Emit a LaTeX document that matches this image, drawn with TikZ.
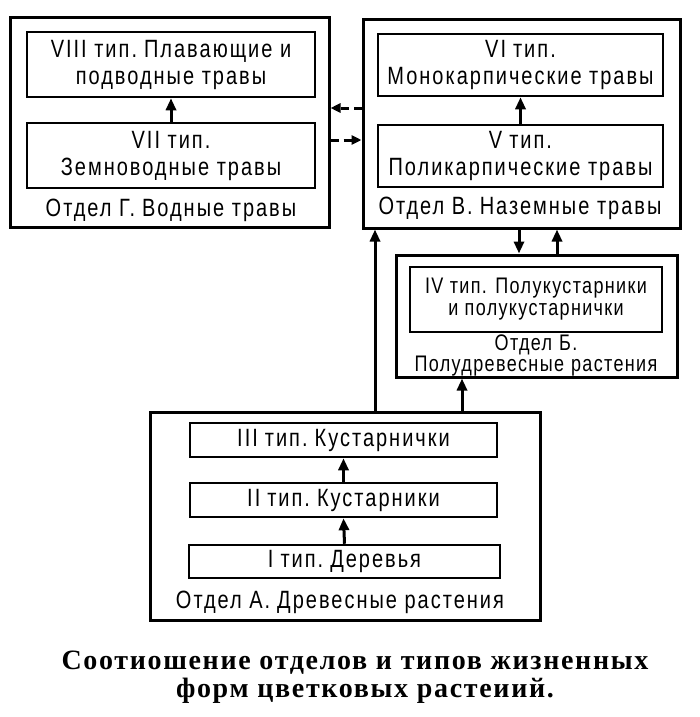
\documentclass[tikz,border=0pt]{standalone}
\usepackage{fontspec}
\setmainfont{Liberation Sans}[FakeStretch=0.8,LetterSpace=8]
\newfontfamily\tightfont{Liberation Sans}[FakeStretch=0.8,LetterSpace=6]
\newfontfamily\capfont{Liberation Serif}[LetterSpace=6]
\usetikzlibrary{arrows.meta}
\newcommand{\gap}{\hspace{7pt}}
\begin{document}
\begin{tikzpicture}[x=1pt,y=-1pt,
  outerbox/.style={draw,line width=3pt,inner sep=0pt},
  innerbox/.style={draw,line width=2.5pt,inner sep=0pt,align=center,font=\fontsize{25}{27}\selectfont},
  lbl/.style={inner sep=0pt,align=center,font=\fontsize{25}{27}\selectfont},
  arr/.style={line width=3pt,-{Triangle[length=12pt,width=10pt]}},
  darr/.style={line width=3pt,dash pattern=on 8pt off 5pt,-{Triangle[length=10pt,width=9pt]}},
  captxt/.style={inner sep=0pt,font=\capfont\bfseries\fontsize{28}{30}\selectfont}]
\useasboundingbox (0,0) rectangle (699,717);
% Otdel G
\node[outerbox,minimum width=319pt,minimum height=209pt] (G) at (169.5,122.5) {};
\node[innerbox,minimum width=288pt,minimum height=65pt] (t8) at (171,64.5) {VIII тип.\gap Плавающие и\\подводные травы};
\node[innerbox,minimum width=288pt,minimum height=65pt] (t7) at (171,155.5) {VII тип.\\Земноводные травы};
\node[lbl] (lG) at (171,210) {Отдел Г.\gap Водные травы};
% Otdel V
\node[outerbox,minimum width=317pt,minimum height=208pt] (B) at (521.5,124) {};
\node[innerbox,minimum width=285pt,minimum height=62pt] (t6) at (520.5,65) {VI\gap тип.\\Монокарпические травы};
\node[innerbox,minimum width=285pt,minimum height=62pt] (t5) at (520.5,156) {V\gap тип.\\Поликарпические травы};
\node[lbl] (lB) at (520,208) {Отдел В.\gap Наземные травы};
% Otdel B
\node[outerbox,minimum width=281pt,minimum height=122pt] (Bb) at (536.5,316) {};
\node[innerbox,minimum width=252pt,minimum height=65pt,font=\tightfont\fontsize{22.5}{22}\selectfont] (t4) at (536,299.5) {IV тип. Полукустарники\\и полукустарнички};
\node[lbl,font=\tightfont\fontsize{22.5}{21}\selectfont] (lBb) at (536,355) {Отдел\gap Б.\\Полудревесные\gap растения};
% Otdel A
\node[outerbox,minimum width=390pt,minimum height=208pt] (A) at (345,516) {};
\node[innerbox,minimum width=307pt,minimum height=34pt] (t3) at (343.5,440) {III\gap тип.\gap Кустарнички};
\node[innerbox,minimum width=307pt,minimum height=34pt] (t2) at (343.5,500) {II\gap тип.\gap Кустарники};
\node[innerbox,minimum width=311pt,minimum height=33pt] (t1) at (344.5,561.5) {I\gap тип.\gap Деревья};
\node[lbl] (lA) at (340,602) {Отдел А.\gap Древесные растения};
% caption
\node[captxt] (c1) at (355,663) {Соотиошение отделов и типов жизненных};
\node[captxt] (c2) at (365,691) {форм цветковых растеиий.};
% helper coordinates
\coordinate (xAB) at (375,0);
\coordinate (xABb) at (462,0);
\coordinate (xdn) at (519,0);
\coordinate (xup) at (557,0);
\coordinate (yd1) at (0,108);
\coordinate (yd2) at (0,140);
% arrows
\draw[arr] (t7.north) -- (t8.south);
\draw[arr] (t5.north) -- (t6.south);
\draw[arr] (t1.north) -- (t2.south);
\draw[arr] (t2.north) -- (t3.south);
\draw[arr] (A.north -| xAB) -- (B.south -| xAB);
\draw[arr] (A.north -| xABb) -- (Bb.south -| xABb);
\draw[arr] (B.south -| xdn) -- (Bb.north -| xdn);
\draw[arr] (Bb.north -| xup) -- (B.south -| xup);
\draw[darr] (B.west |- yd1) -- (G.east |- yd1);
\draw[darr] (G.east |- yd2) -- (B.west |- yd2);
\end{tikzpicture}
\end{document}
